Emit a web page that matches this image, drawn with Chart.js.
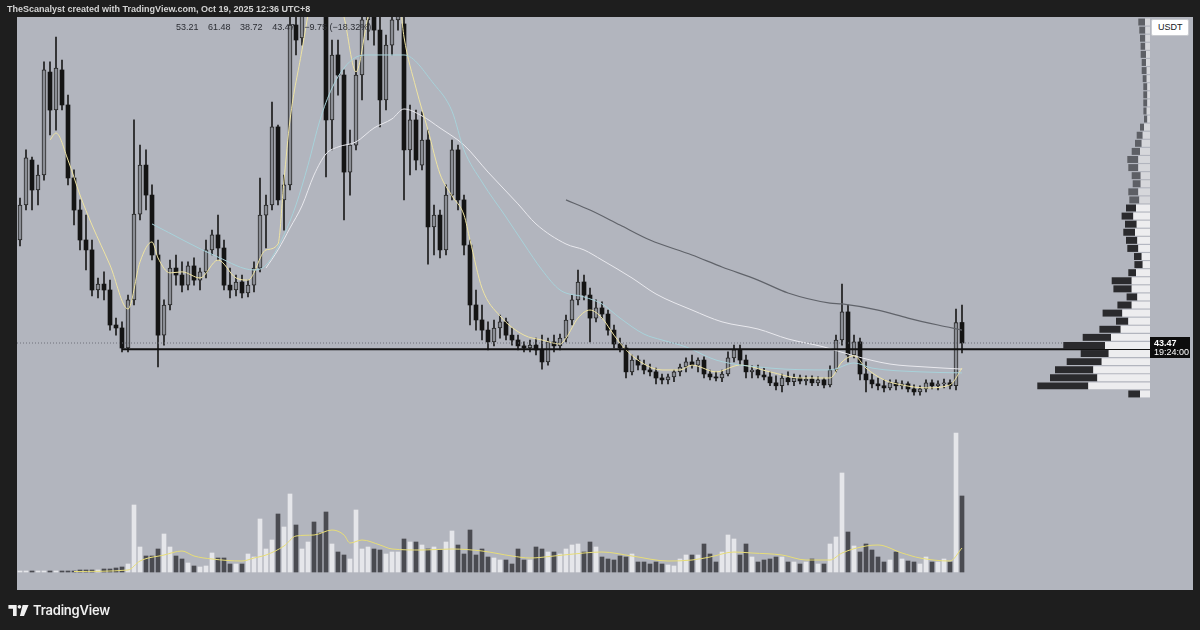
<!DOCTYPE html>
<html>
<head>
<meta charset="utf-8">
<script src="https://cdn.jsdelivr.net/npm/chart.js@4.4.0/dist/chart.umd.min.js"></script>
<style>
  html, body { margin: 0; padding: 0; background: #1e1e1e; }
  #wrap { position: relative; width: 1200px; height: 630px; overflow: hidden; background: #1e1e1e; }
  #main { position: absolute; left: 0; top: 0; }
  #profile { position: absolute; left: 1030px; top: 18px; }
  .hdr { position: absolute; left: 7px; top: 4px; font: 600 9px "Liberation Sans", Arial, sans-serif; color: #d4d4d4; white-space: nowrap; }
  .ohlc { position: absolute; left: 176px; top: 22px; font: 9px "Liberation Sans", Arial, sans-serif; color: #2b2d33; white-space: nowrap; }
  .ohlc span { margin-right: 7px; }
  .usdt { position: absolute; left: 1151px; top: 19px; width: 38px; height: 17px; background: #fff; border: 1px solid #c9cbd0; box-sizing: border-box; border-radius: 2px;
          font: 9px "Liberation Sans", Arial, sans-serif; color: #131722; line-height: 15px; padding-left: 6px; }
  .brand { position: absolute; left: 8px; top: 602px; display: flex; align-items: center; }
  .brand span { font: 600 13px Inter, Roboto, sans-serif; color: #f0f0f0; margin-left: 4px; letter-spacing: -0.2px; }
</style>
</head>
<body>
<div id="wrap">
  <canvas id="main" width="1200" height="630"></canvas>
  <canvas id="profile" width="120" height="380"></canvas>
  <div class="hdr">TheScanalyst created with TradingView.com, Oct 19, 2025 12:36 UTC+8</div>
  <div class="ohlc"><span>53.21</span> <span>61.48</span> <span>38.72</span> <span>43.47</span> <span>−9.75 (−18.32%)</span></div>
  <div class="usdt">USDT</div>
  <div class="brand">
    <svg width="21" height="11" viewBox="0 0 22 12">
      <path d="M0 0H9V12H5V4H0Z" fill="#f0f0f0"/>
      <circle cx="12" cy="2" r="2" fill="#f0f0f0"/>
      <path d="M15.5 0H22L17 12H12.5Z" fill="#f0f0f0"/>
    </svg>
    <span>TradingView</span>
  </div>
</div>
<script>
// candles, oldest first
const opens = [
  92.3,108.9,130.2,116.0,123.1,171.9,153.9,172.9,156.3,121.7,
  106.5,92.3,87.6,68.6,71.4,68.6,52.0,50.6,41.1,63.9,
  104.6,127.8,113.6,85.2,47.2,61.5,79.0,75.7,70.9,80.0,
  73.3,77.2,87.6,94.7,88.5,70.9,68.6,72.4,67.2,70.9,
  79.0,104.1,108.9,145.9,111.3,118.4,194.2,188.1,210.8,220.3,
  215.5,203.7,149.2,180.0,170.5,124.5,137.3,170.5,196.6,206.1,
  191.8,158.7,184.7,196.6,194.7,135.0,149.2,127.8,139.7,98.5,
  104.1,87.6,113.6,135.0,111.3,89.9,61.5,54.4,49.6,44.0,
  50.6,53.5,47.2,44.9,42.1,41.1,42.5,40.2,34.5,44.0,
  42.1,45.8,54.4,63.9,72.4,66.2,55.3,60.1,57.2,49.6,
  43.0,41.1,29.8,35.4,33.0,30.7,29.8,26.9,26.0,27.4,
  29.8,32.1,34.5,33.0,35.4,28.8,27.4,26.9,28.8,36.4,
  40.2,35.4,29.8,30.7,28.3,27.4,24.6,23.2,26.9,25.1,
  26.9,25.5,26.4,24.6,26.0,23.6,30.7,44.9,58.2,37.8,
  44.0,28.8,26.0,24.1,23.2,22.2,24.6,23.2,24.1,21.7,
  20.3,21.7,24.6,23.2,24.1,24.6,23.2,53.21
];
const highs = [
  112.2,135.0,131.6,127.8,176.7,176.7,188.5,177.6,161.0,125.5,
  111.3,104.1,92.3,74.3,77.2,73.3,55.3,53.5,66.2,149.2,
  137.3,135.0,118.4,92.3,63.9,82.8,85.2,81.9,81.9,83.8,
  79.0,92.3,97.0,104.1,92.3,79.0,75.7,75.7,73.3,81.9,
  121.7,113.6,157.7,146.8,123.1,206.1,206.1,220.3,229.8,234.5,
  225.0,210.8,187.1,187.1,172.9,144.4,177.6,206.1,215.5,215.5,
  198.0,189.4,210.8,210.8,198.9,156.3,153.9,153.0,144.4,108.9,
  106.5,118.4,139.7,137.3,113.6,92.3,68.6,61.5,53.5,54.4,
  56.7,55.3,50.6,47.2,44.0,44.9,45.8,47.2,45.8,47.2,
  47.7,56.7,66.2,78.1,75.7,69.5,63.9,63.0,59.1,52.0,
  45.8,42.5,37.8,37.4,35.4,33.5,31.6,28.8,28.8,30.7,
  33.5,36.4,37.8,36.4,36.9,30.7,29.8,30.7,39.3,42.5,
  42.5,37.8,32.6,33.0,31.6,29.8,27.9,28.8,29.8,28.8,
  28.3,27.9,27.9,27.4,26.9,32.6,47.2,71.4,61.5,47.2,
  45.8,34.5,28.8,26.9,26.0,26.0,26.0,25.5,25.1,23.6,
  23.2,26.0,26.0,25.5,26.4,26.0,59.6,61.48
];
const lows = [
  89.5,106.5,106.5,108.9,120.7,142.1,144.4,153.9,118.4,99.4,
  87.6,78.1,65.8,64.8,63.9,49.6,47.2,39.3,39.3,61.5,
  101.8,106.5,82.8,32.1,42.5,59.1,70.9,67.7,68.6,70.9,
  68.6,74.3,85.2,82.8,68.6,64.8,65.8,64.8,65.3,67.7,
  77.2,88.5,106.5,108.9,97.0,116.0,180.0,184.7,203.7,206.1,
  201.3,122.2,135.0,161.0,101.8,113.6,135.0,158.7,187.1,184.7,
  145.9,153.9,180.0,191.8,111.3,123.1,125.5,125.5,80.9,85.2,
  83.8,85.2,111.3,106.5,85.2,52.0,49.6,44.9,40.2,42.1,
  45.8,44.9,42.5,40.2,39.3,39.3,37.8,31.1,33.0,39.3,
  40.2,44.0,52.0,61.5,63.9,44.0,53.5,55.3,47.2,41.1,
  39.3,26.9,28.3,30.7,28.8,27.9,24.1,24.1,24.1,25.1,
  27.9,29.8,31.6,29.8,26.9,26.0,25.5,25.1,27.9,34.5,
  33.0,26.9,26.9,26.9,26.0,23.2,21.2,20.3,23.6,23.2,
  24.1,23.6,23.2,23.2,22.2,22.7,29.8,42.5,34.5,36.4,
  26.0,20.3,22.2,21.2,20.3,21.2,21.2,21.7,20.3,18.8,
  18.8,20.3,21.7,21.2,22.2,21.7,21.2,38.72
];
const closes = [
  108.9,131.2,116.0,123.1,172.9,153.9,173.8,156.3,121.7,106.5,
  92.3,87.6,68.6,71.4,68.6,52.0,50.6,41.1,63.9,104.6,
  127.8,113.6,85.2,47.2,61.5,79.0,75.7,70.9,80.0,73.3,
  77.2,87.6,94.7,88.5,70.9,68.6,72.4,67.2,70.9,79.0,
  104.1,108.9,145.9,111.3,118.4,194.2,187.1,210.8,220.3,215.5,
  208.4,149.2,180.0,170.5,124.5,137.3,170.5,196.6,206.1,191.8,
  158.7,184.7,196.6,203.7,135.0,149.2,130.2,139.7,98.5,104.1,
  87.6,113.6,135.0,111.3,89.9,61.5,54.4,49.6,44.0,50.6,
  53.5,47.2,44.9,42.1,41.1,42.5,40.2,34.5,44.0,42.1,
  45.8,54.4,63.9,72.4,66.2,55.3,60.1,57.2,49.6,43.0,
  41.1,29.8,35.4,33.0,30.7,29.8,26.9,26.0,27.4,29.8,
  32.1,34.5,33.0,35.4,28.8,27.4,26.9,28.8,36.4,40.2,
  35.4,29.8,30.7,28.3,27.4,24.6,23.2,26.9,25.1,26.9,
  25.5,26.4,24.6,26.0,23.6,30.7,44.9,58.2,37.8,44.0,
  28.8,26.0,24.1,23.2,22.2,24.6,23.2,24.1,21.7,20.3,
  21.7,24.6,23.2,24.1,24.6,23.2,53.21,43.47
];
const volumes = [
  100,100,100,100,100,100,100,100,100,100,
  200,200,200,200,300,300,400,500,800,6700,
  2500,1600,1600,2300,3800,2500,1600,1300,900,600,
  500,600,1900,1400,1400,800,800,800,1800,1500,
  5300,2300,3200,5800,4500,7800,4700,2300,3000,5000,
  3900,6000,2800,2000,1700,1300,6200,2300,2500,2300,
  2200,1800,2000,2000,3300,3000,3000,2700,2300,2500,
  2200,3000,4100,2700,1800,4200,1700,2300,1500,1400,
  1200,1200,800,2300,1200,1200,2500,2300,2000,2000,
  1800,2300,2700,2800,2000,3000,2500,1500,1300,1200,
  1600,1500,1800,1000,1000,800,1000,800,700,600,
  1300,1700,1700,1700,2800,1800,1000,2000,3700,3300,
  1700,2800,1500,1000,1200,1300,1500,1500,1000,1000,
  800,1000,1300,800,800,2800,3500,9900,4000,2600,
  2000,2800,2200,1500,1000,1200,2000,1300,1100,1000,
  800,1500,1000,1000,1300,1000,13900,7600
];

// moving averages: [candle index, value]
const maFast = [[5,139.7],[6,143.0],[8,130.2],[10,113.6],[12,99.4],[15,80.4],[18,59.6],[20,81.9],[22,91.4],[23,83.8],
  [25,76.7],[27,77.2],[30,74.3],[33,82.8],[36,74.3],[38,73.3],[41,87.6],[43,90.4],[44,120.7],[45,149.2],[47,182.4],
  [48,199.0],[49,215.5],[52,215.5],[54,198.0],[56,172.0],[58,198.0],[60,215.5],[63,210.8],[64,188.5],[66,164.3],
  [68,144.4],[70,123.6],[72,113.2],[74,104.1],[75,92.3],[77,69.5],[80,56.3],[84,47.2],[87,44.9],[90,43.0],[91,45.8],
  [93,55.3],[95,59.1],[97,55.3],[99,47.2],[101,40.2],[104,33.5],[107,30.7],[110,30.7],[112,33.0],[116,29.8],[120,33.0],
  [125,29.8],[130,26.9],[135,26.9],[137,34.5],[139,37.4],[141,31.6],[144,26.0],[147,23.6],[151,22.2],[155,23.6],[157,31.6]];
const maMid = [[22,99.9],[33,84.2],[39,78.1],[41,80.4],[44,94.7],[46,108.9],[48,127.8],[50,149.2],[52,164.3],[54,173.8],
  [56,179.0],[58,180.0],[62,180.0],[64,180.0],[69,166.2],[72,153.4],[74,135.0],[77,119.8],[81,103.2],[84,90.4],[87,78.1],
  [90,68.6],[94,65.3],[97,62.0],[100,55.3],[104,47.7],[107,44.9],[111,41.6],[116,35.4],[125,31.6],[135,30.7],[139,34.0],
  [142,31.6],[150,29.8],[157,29.3]];
const maSlow = [[41,79.0],[43,87.6],[45,98.0],[47,108.5],[49,123.1],[51,133.1],[53,136.4],[56,138.8],[59,145.4],[62,149.7],
  [64,154.4],[67,151.1],[70,145.4],[74,137.3],[78,124.5],[83,109.4],[86,99.9],[91,90.4],[94,87.6],[97,82.8],[102,74.3],
  [106,66.7],[112,59.1],[117,53.5],[123,50.1],[128,45.4],[134,41.6],[139,37.4],[145,33.5],[151,32.1],[157,31.1]];
const maLong = [[91,111.3],[95,106.5],[100,99.4],[105,92.3],[112,85.2],[117,79.5],[123,73.3],[128,67.2],[135,62.4],
  [137,62.0],[143,59.1],[148,55.3],[153,52.0],[157,49.6]];
const volMa = [[9,50],[18,200],[20,1100],[24,1700],[27,2100],[29,1600],[32,1300],[37,1100],[39,1400],[41,1700],[44,2600],
  [46,3600],[49,3700],[52,4200],[54,3700],[55,2900],[57,3200],[60,2700],[62,2300],[67,2200],[72,2300],[77,2100],[82,1600],
  [85,1400],[89,1600],[94,1900],[97,2000],[102,1600],[108,1100],[112,1200],[115,1500],[119,2000],[122,1900],[127,1700],
  [131,1200],[135,1200],[137,1900],[141,2600],[143,2700],[147,1900],[150,1400],[155,1100],[157,2400]];

const supportLevel = 40.5;
const supportFrom = 17;
const lastPrice = 43.47;
const countdown = "19:24:00";

// visible range volume profile, top row first
const profPrices = [195,191,188,184,180,176,172,168,165,161,157,153,149,145,141,138,134,130,126,122,118,115,111,107,
  103,99,95,92,88,84,80,76,72,68,65,61,57,53,49,46,42,38,34,30,26,23,19];
const profUp = [5.0,4.7,4.7,4.7,4.0,4.0,3.3,3.3,2.7,2.7,2.7,3.3,2.7,6.0,7.3,8.3,10.0,11.7,11.7,9.3,9.3,11.7,10.7,
  14.0,16.7,13.3,15.0,12.7,11.7,8.3,7.3,14.0,18.3,18.3,12.7,18.3,27.7,21.7,29.3,39.0,45.0,41.3,48.3,56.7,52.7,61.7,10.0];
const profDown = [6.7,6.0,5.3,4.7,5.3,4.3,5.0,4.0,4.0,4.0,4.0,3.3,3.3,4.0,6.0,6.7,8.3,11.0,10.0,9.0,8.0,10.0,10.0,
  10.0,11.7,11.7,11.7,11.3,11.0,7.7,8.3,7.7,20.0,18.3,10.7,14.3,19.7,12.3,21.3,28.3,41.7,28.0,35.0,38.3,47.3,51.0,11.7];
const valueAreaStart = 23;

const idx = opens.map((_, i) => i);
const isUp = idx.map(i => closes[i] >= opens[i]);

const areaBg = {
  id: 'areaBg',
  beforeDraw(chart) {
    const { ctx, chartArea: a } = chart;
    ctx.save();
    ctx.fillStyle = '#b2b5be';
    ctx.fillRect(a.left, a.top, a.right - a.left, a.bottom - a.top);
    ctx.restore();
  }
};

const priceTag = {
  id: 'priceTag',
  afterDatasetsDraw(chart) {
    const { ctx, chartArea: a, scales } = chart;
    const y = Math.round(scales.y.getPixelForValue(lastPrice));
    ctx.save();
    ctx.fillStyle = '#0d0d0d';
    ctx.fillRect(a.right - 43, y - 6, 40, 21);
    ctx.fillStyle = '#ffffff';
    ctx.font = '600 9px "Liberation Sans", Arial, sans-serif';
    ctx.textBaseline = 'middle';
    ctx.fillText(lastPrice.toFixed(2), a.right - 39, y + 0.5);
    ctx.font = '9px "Liberation Sans", Arial, sans-serif';
    ctx.fillText(countdown, a.right - 39, y + 9.5);
    ctx.restore();
  }
};

const line = (pts, color, width, order, axis) => ({
  type: 'line',
  data: pts.map(p => ({ x: p[0], y: p[1] })),
  yAxisID: axis || 'y',
  borderColor: color,
  borderWidth: width,
  pointRadius: 0,
  cubicInterpolationMode: 'monotone',
  order: order
});

new Chart(document.getElementById('main'), {
  type: 'bar',
  data: {
    datasets: [
      {
        type: 'bar',
        data: idx.map(i => ({ x: i, y: volumes[i] })),
        yAxisID: 'yv',
        backgroundColor: idx.map(i => isUp[i] ? '#e5e6ea' : '#4a4b51'),
        barThickness: 4,
        grouped: false,
        order: 10
      },
      line(volMa, '#e7dd78', 1, 9, 'yv'),
      {
        type: 'bar',
        data: idx.map(i => ({ x: i, y: [lows[i], highs[i]] })),
        backgroundColor: '#1b1b1b',
        barThickness: 1,
        grouped: false,
        order: 6
      },
      {
        type: 'bar',
        data: idx.map(i => ({ x: i, y: [Math.min(opens[i], closes[i]), Math.max(opens[i], closes[i])] })),
        backgroundColor: idx.map(i => isUp[i] ? '#8b8e95' : '#141414'),
        borderColor: '#262626',
        borderWidth: idx.map(i => isUp[i] ? 1 : 0),
        borderSkipped: false,
        barThickness: 4,
        grouped: false,
        order: 5
      },
      line(maLong, '#60636a', 1.2, 4),
      line(maSlow, '#e9e9ee', 1, 4),
      line(maMid, '#a8d2da', 1, 3),
      line(maFast, '#efe4a2', 1, 3),
      {
        type: 'line',
        data: [{ x: -0.5, y: lastPrice }, { x: 188, y: lastPrice }],
        borderColor: '#6e717a',
        borderWidth: 1,
        borderDash: [1, 2],
        pointRadius: 0,
        order: 2
      },
      {
        type: 'line',
        data: [{ x: supportFrom, y: supportLevel }, { x: 195, y: supportLevel }],
        borderColor: '#111111',
        borderWidth: 2,
        pointRadius: 0,
        order: 1
      }
    ]
  },
  options: {
    responsive: false,
    animation: false,
    layout: { padding: { left: 17, top: 17, right: 7, bottom: 40 } },
    plugins: { legend: { display: false }, tooltip: { enabled: false } },
    scales: {
      x: { type: 'linear', min: -0.5, max: 195.5, offset: false, display: false },
      y: { type: 'linear', min: -73.6, max: 198.0, display: false },
      yv: { type: 'linear', min: -1800, max: 55500, display: false }
    }
  },
  plugins: [areaBg, priceTag]
});

new Chart(document.getElementById('profile'), {
  type: 'bar',
  data: {
    labels: profPrices,
    datasets: [
      {
        data: profUp,
        backgroundColor: profPrices.map((_, r) => r < valueAreaStart ? '#d6d7db' : '#ededef'),
        barPercentage: 0.86,
        categoryPercentage: 1
      },
      {
        data: profDown,
        backgroundColor: profPrices.map((_, r) => r < valueAreaStart ? '#5d5f65' : '#2a2a2d'),
        barPercentage: 0.86,
        categoryPercentage: 1
      }
    ]
  },
  options: {
    indexAxis: 'y',
    responsive: false,
    animation: false,
    layout: { padding: 0 },
    plugins: { legend: { display: false }, tooltip: { enabled: false } },
    scales: {
      x: { stacked: true, reverse: true, min: 0, max: 120, display: false },
      y: { stacked: true, display: false }
    }
  }
});
</script>
</body>
</html>
